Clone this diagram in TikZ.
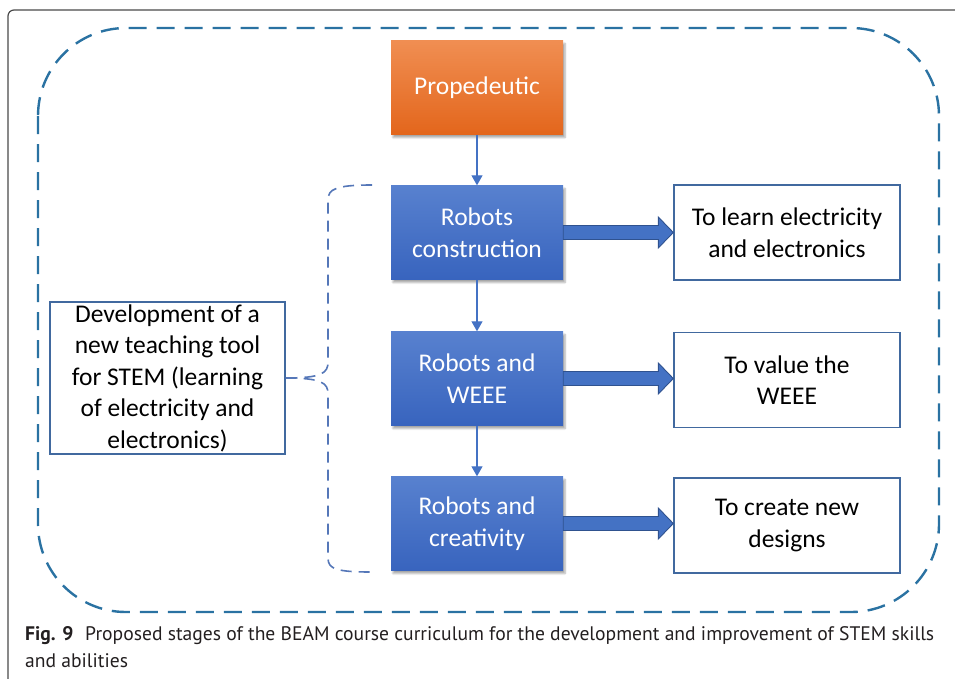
\documentclass[tikz,border=0pt]{standalone}
\usepackage{fontspec}
\setmainfont{Carlito}
\newfontfamily\capfont{PT Sans}
\usetikzlibrary{arrows.meta,calc,shadows.blur}

\definecolor{framegray}{HTML}{4A4A4A}
\definecolor{dashblue}{HTML}{2A72A2}
\definecolor{bracelue}{HTML}{5577B8}
\definecolor{stageblue}{HTML}{4472C4}
\definecolor{stagetop}{HTML}{5881CF}
\definecolor{stagebot}{HTML}{3864BE}
\definecolor{stagedark}{HTML}{2F528F}
\definecolor{proptop}{HTML}{F08E52}
\definecolor{propbot}{HTML}{E3661C}
\definecolor{goalline}{HTML}{41699F}
\definecolor{captext}{HTML}{231F20}

\tikzset{
  boxfont/.style={font=\fontsize{25.5}{31.5}\selectfont},
  stage/.style={boxfont, align=center, text=white, inner sep=0pt,
    minimum width=172pt, minimum height=94pt,
    top color=stagetop, bottom color=stagebot,
    blur shadow={shadow xshift=2pt, shadow yshift=-3pt, shadow opacity=35}},
  goal/.style={boxfont, align=center, draw=goalline, line width=1.4pt,
    fill=white, inner sep=0pt, minimum width=226pt, minimum height=95pt},
  flow/.style={stageblue, line width=1.1pt, -{Triangle[width=11pt,length=10pt]}},
  bigarrow/.style={fill=stageblue, draw=stagedark, line width=0.9pt},
  brace/.style={bracelue, line width=1.6pt, dash pattern=on 11pt off 7pt},
}

\begin{document}
\begin{tikzpicture}[x=1pt,y=-1pt]
  \useasboundingbox (0,0) rectangle (955,678);
  % page frame
  \draw[framegray, line width=1.2pt, rounded corners=6pt] (960,10) -- (8,10) -- (8,690);
  % outer dashed outline
  \draw[dashblue, line width=2.4pt, dash pattern=on 18pt off 10pt,
        rounded corners=88pt] (38,28) rectangle (939,612);

  % stages
  \node[stage, top color=proptop, bottom color=propbot] (prop) at (477,87.5) {Propedeutic};
  \node[stage] (build)  at (477,232.5) {Robots\\construction};
  \node[stage] (weee)   at (477,378.5) {Robots and\\WEEE};
  \node[stage] (create) at (477,523.5) {Robots and\\creativity};

  % aims
  \node[goal] (learn)  at (787,232.5) {To learn electricity\\and electronics};
  \node[goal] (value)  at (787,380)   {To value the\\WEEE};
  \node[goal] (design) at (787,525.5) {To create new\\designs};

  % teaching tool
  \node[goal, minimum width=235pt, minimum height=152pt] (tool) at (167.5,378)
    {Development of a\\new teaching tool\\for STEM (learning\\of electricity and\\electronics)};

  \draw[flow] (prop) -- (build);
  \draw[flow] (build) -- (weee);
  \draw[flow] (weee) -- (create);

  % block arrows to the aims
  \foreach \s/\g in {build/learn, weee/value, create/design}{
    \coordinate (tip) at (\s.east -| \g.west);
    \draw[bigarrow] ($(\s.east)+(0,-7)$) -- ($(tip)+(-15,-7)$) -- ($(tip)+(-15,-15.5)$)
      -- (tip) -- ($(tip)+(-15,15.5)$) -- ($(tip)+(-15,7)$) -- ($(\s.east)+(0,7)$) -- cycle;
  }

  % brace over the three robot stages
  \coordinate (brtop) at (372,185);
  \coordinate (brbot) at (372,572);
  \draw[brace] (brtop) .. controls (336,185) and (328,189) .. (328,200) -- (328,362)
    .. controls (328,373) and (322,378) .. (tool.east);
  \draw[brace] (tool.east) .. controls (322,378) and (328,383) .. (328,394) -- (328,558)
    .. controls (328,569) and (336,572) .. (brbot);

  % caption (base is the last line)
  \node[anchor=base west, align=left, inner sep=0pt, text=captext,
        font=\capfont\fontsize{19.6}{27}\selectfont] (cap) at (25,667)
    {\textbf{Fig. 9}\hspace{0.6em}Proposed stages of the BEAM course curriculum for the development and improvement of STEM skills\\and abilities};
\end{tikzpicture}
\end{document}
